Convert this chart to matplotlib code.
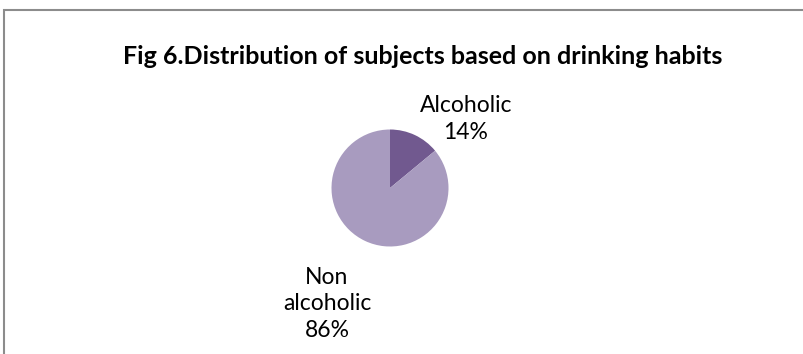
import matplotlib.pyplot as plt
from matplotlib.patches import Rectangle

plt.rcParams['font.family'] = ['Lato', 'DejaVu Sans']

labels = ['Alcoholic', 'Non\nalcoholic']
values = [14, 86]
colors = ['#71598f', '#a89bbf']

W, H = 804, 354
fig = plt.figure(figsize=(W / 100, H / 100), dpi=100)

# chart border (runs off the right and bottom edges)
fig.patches.append(Rectangle((4 / W, -0.1), 1.1, (H - 10) / H + 0.1,
                             transform=fig.transFigure, fill=False,
                             edgecolor='#8c8c8c', linewidth=1.5))

fig.text(423 / W, 1 - 57 / H, 'Fig 6.Distribution of subjects based on drinking habits',
         ha='center', va='center', fontsize=18, fontweight='bold')

# pie: centre (390, 188) px, radius ~58.5 px
cx, cy, r = 390, 188, 58.5
ax = fig.add_axes([(cx - r) / W, 1 - (cy + r) / H, 2 * r / W, 2 * r / H])
ax.pie(values, colors=colors, startangle=90, counterclock=False, radius=1)
ax.set_xlim(-1, 1)
ax.set_ylim(-1, 1)
ax.set_aspect('equal')
ax.axis('off')

fig.text(466 / W, 1 - 119 / H, f'{labels[0]}\n{values[0]}%', ha='center', va='center',
         fontsize=16.5, linespacing=1.3)
fig.text(327 / W, 1 - 304 / H, f'{labels[1]}\n{values[1]}%', ha='center', va='center',
         fontsize=16.5, linespacing=1.3)

fig.savefig('out.png', dpi=100)
